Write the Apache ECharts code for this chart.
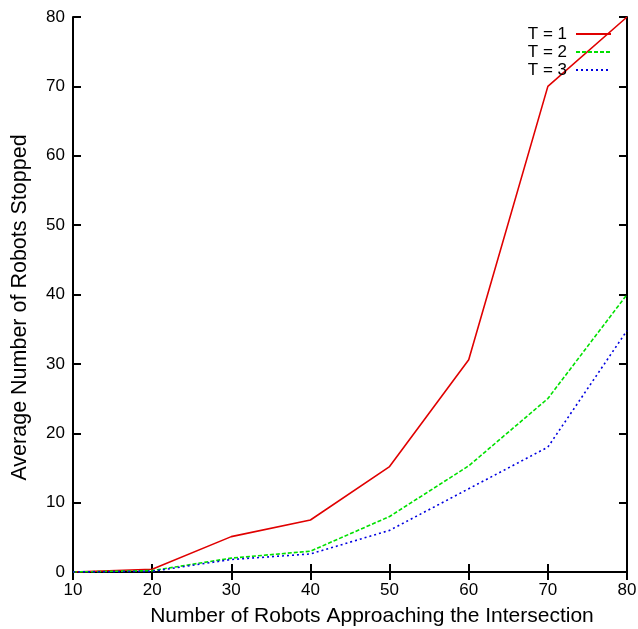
<!DOCTYPE html>
<html>
<head>
<meta charset="utf-8">
<script src="https://cdn.jsdelivr.net/npm/echarts@6/dist/echarts.min.js"></script>
<style>
  html, body { margin: 0; padding: 0; background: #fff; }
  #chart { width: 638px; height: 629px; }
</style>
</head>
<body>
<div id="chart"></div>
<script>
var robots = [10, 20, 30, 40, 50, 60, 70, 80];
var stoppedT1 = [0, 0.4, 5.1, 7.5, 15.2, 30.6, 70, 80];
var stoppedT2 = [0, 0.2, 2.0, 3.0, 8.0, 15.3, 25.0, 40.0];
var stoppedT3 = [0, 0.1, 1.8, 2.6, 6.0, 12.0, 18.0, 34.8];
var seriesNames = ["T = 1", "T = 2", "T = 3"];

var font = "Liberation Sans, Helvetica, Arial, sans-serif";

function pairs(vals) {
  return robots.map(function (x, i) { return [x, vals[i]]; });
}

var chart = echarts.init(document.getElementById("chart"));

var baseAxisLine = { show: true, lineStyle: { color: "#000", width: 2 } };
var tick = { show: true, inside: true, length: 8, lineStyle: { color: "#000", width: 2 } };

var option = {
  backgroundColor: "#fff",
  animation: false,
  textStyle: { fontFamily: font },
  grid: { left: 73, right: 11, top: 17, bottom: 57, outerBoundsMode: "none", containLabel: false },
  legend: {
    orient: "vertical",
    right: 26,
    top: 25.5,
    padding: 0,
    align: "right",
    itemGap: 1,
    itemWidth: 35,
    itemHeight: 17,
    itemStyle: { color: "transparent", borderWidth: 0, opacity: 0 },
    textStyle: { fontSize: 17, lineHeight: 17, color: "#000", fontFamily: font, padding: [0, 4, 0, 0] },
    data: seriesNames
  },
  xAxis: [
    {
      type: "value",
      min: 10,
      max: 80,
      interval: 10,
      position: "bottom",
      name: "Number of Robots Approaching the Intersection",
      nameLocation: "middle",
      nameGap: 34,
      nameTextStyle: { fontSize: 21, color: "#000", padding: [0, 0, 0, 44] },
      axisLine: baseAxisLine,
      axisTick: tick,
      axisLabel: { color: "#000", fontSize: 17, margin: 10 },
      splitLine: { show: false }
    },
    {
      type: "value",
      min: 10,
      max: 80,
      interval: 10,
      position: "top",
      axisLine: baseAxisLine,
      axisTick: tick,
      axisLabel: { show: false },
      splitLine: { show: false }
    }
  ],
  yAxis: [
    {
      type: "value",
      min: 0,
      max: 80,
      interval: 10,
      position: "left",
      name: "Average Number of Robots Stopped",
      nameLocation: "middle",
      nameGap: 42,
      nameTextStyle: { fontSize: 21.5, color: "#000", padding: [0, 26, 0, 0] },
      axisLine: baseAxisLine,
      axisTick: tick,
      axisLabel: { color: "#000", fontSize: 17, margin: 8 },
      splitLine: { show: false }
    },
    {
      type: "value",
      min: 0,
      max: 80,
      interval: 10,
      position: "right",
      axisLine: baseAxisLine,
      axisTick: tick,
      axisLabel: { show: false },
      splitLine: { show: false }
    }
  ],
  series: [
    {
      name: seriesNames[0],
      type: "line",
      symbol: "none",
      data: pairs(stoppedT1),
      lineStyle: { color: "#e00000", width: 1.6, type: "solid" },
      itemStyle: { color: "#e00000" }
    },
    {
      name: seriesNames[1],
      type: "line",
      symbol: "none",
      data: pairs(stoppedT2),
      lineStyle: { color: "#00e000", width: 1.6, type: [4, 2] },
      itemStyle: { color: "#00e000" }
    },
    {
      name: seriesNames[2],
      type: "line",
      symbol: "none",
      data: pairs(stoppedT3),
      lineStyle: { color: "#0000e0", width: 1.6, type: [2, 3] },
      itemStyle: { color: "#0000e0" }
    }
  ]
};
chart.setOption(option);
</script>
</body>
</html>
